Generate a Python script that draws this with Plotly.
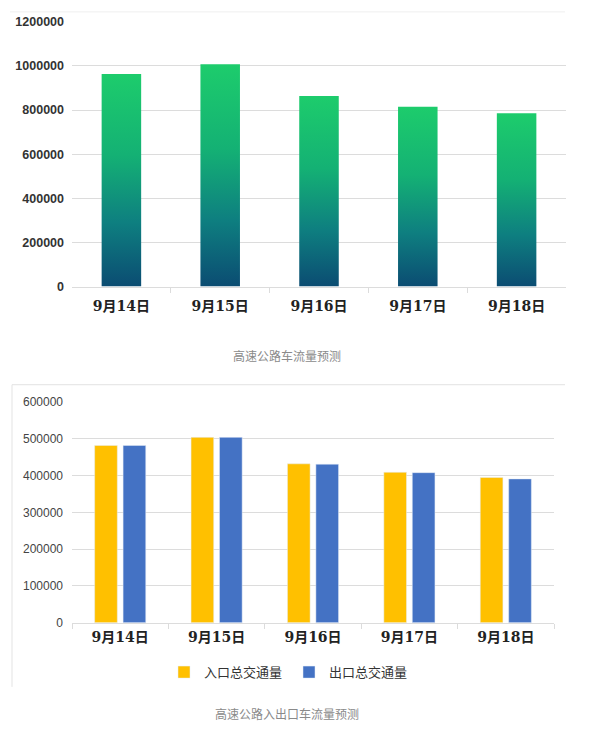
import plotly.graph_objects as go

# ---- data ----
dates = ["9月14日", "9月15日", "9月16日", "9月17日", "9月18日"]
total_flow = [963000, 1007000, 863000, 815000, 785000]
entry_flow = [482000, 504000, 432000, 409000, 395000]
exit_flow = [482000, 504000, 431000, 408000, 391000]
entry_name = "入口总交通量"
exit_name = "出口总交通量"
caption_top = "高速公路车流量预测"
caption_bottom = "高速公路入出口车流量预测"

fig = go.Figure()

# ---- top chart: gradient bars (one filled polygon per bar, built from the data) ----
grad = [[0.0, "#0B4C72"], [0.3, "#0E7F80"], [0.62, "#14B174"], [1.0, "#1DCC6C"]]
half = 0.2
for i, v in enumerate(total_flow):
    fig.add_trace(go.Scatter(
        x=[i - half, i + half, i + half, i - half, i - half],
        y=[0, 0, v, v, 0],
        mode="lines", fill="toself", line=dict(width=0),
        fillgradient=dict(type="vertical", colorscale=grad),
        xaxis="x", yaxis="y", showlegend=False, hoverinfo="skip",
    ))

# ---- bottom chart: grouped bars ----
fig.add_trace(go.Bar(x=dates, y=entry_flow, name=entry_name, marker_color="#FFC000",
                     width=0.235, offset=-0.265, xaxis="x2", yaxis="y2"))
fig.add_trace(go.Bar(x=dates, y=exit_flow, name=exit_name, marker_color="#4472C4",
                     width=0.235, offset=0.03, xaxis="x2", yaxis="y2"))

W, H = 600, 740
def px_x(a, b):
    return [a / W, b / W]
def px_y(top, bottom):
    return [1 - bottom / H, 1 - top / H]

grid = "#DCDCDC"
xfont = dict(family="DejaVu Serif, Noto Sans CJK SC", size=14, color="#222", weight="bold")

fig.update_layout(
    width=W, height=H, margin=dict(l=0, r=0, t=0, b=0),
    paper_bgcolor="white", plot_bgcolor="white",
    barmode="overlay",
    font=dict(family="Noto Sans CJK SC, Arial", color="#333"),
    xaxis=dict(domain=px_x(72, 566), type="linear", range=[-0.5, 4.5],
               tickvals=list(range(len(dates))), ticktext=dates,
               ticks="outside", ticklen=5, tickcolor="rgba(0,0,0,0)",
               minor=dict(tickvals=[0.5, 1.5, 2.5, 3.5], ticks="outside", ticklen=5, tickcolor=grid),
               showline=True, linecolor=grid, showgrid=False, zeroline=False,
               tickfont=xfont, ticklabelstandoff=2, fixedrange=True),
    yaxis=dict(domain=px_y(15, 285), range=[0, 1200000], dtick=200000, tickformat="d",
               showgrid=True, gridcolor=grid, zeroline=False, showline=False,
               tickfont=dict(family="Liberation Sans, Arial", size=12.5, color="#333", weight="bold"),
               ticklabelstandoff=7, anchor="x"),
    xaxis2=dict(domain=px_x(72, 554), type="category", tickson="boundaries",
                ticks="outside", ticklen=5, tickcolor=grid,
                showline=True, linecolor=grid, showgrid=False,
                tickfont=xfont, ticklabelstandoff=2, anchor="y2"),
    yaxis2=dict(domain=px_y(402.7, 627.5), range=[0, 600000], dtick=100000, tickformat="d",
                showgrid=True, gridcolor=grid, zeroline=False, showline=False,
                tickfont=dict(family="Liberation Sans, Arial", size=12, color="#444"),
                ticklabelstandoff=8, anchor="x2"),
    legend=dict(orientation="h", x=164 / W, xanchor="left", y=1 - 678 / H, yanchor="middle",
                entrywidth=80, itemwidth=30,
                font=dict(size=13, color="#333"), bgcolor="rgba(0,0,0,0)"),
    shapes=[
        dict(type="line", xref="paper", yref="paper", x0=12 / W, x1=565 / W,
             y0=1 - 385 / H, y1=1 - 385 / H, line=dict(color="#E3E3E3", width=1)),
        dict(type="line", xref="paper", yref="paper", x0=12 / W, x1=12 / W,
             y0=1 - 385 / H, y1=1 - 693 / H, line=dict(color="#E3E3E3", width=1)),
        dict(type="line", xref="paper", yref="paper", x0=10 / W, x1=565 / W,
             y0=1 - 5 / H, y1=1 - 5 / H, line=dict(color="#EFEFEF", width=1)),
    ],
    annotations=[
        dict(text=caption_top, xref="paper", yref="paper", x=287 / W, y=1 - 355 / H,
             yanchor="middle", showarrow=False, font=dict(size=12, color="#8A8A8A")),
        dict(text=caption_bottom, xref="paper", yref="paper", x=287 / W, y=1 - 720 / H,
             yanchor="middle", showarrow=False, font=dict(size=12, color="#8A8A8A")),
    ],
)

fig.write_html("out.html")
